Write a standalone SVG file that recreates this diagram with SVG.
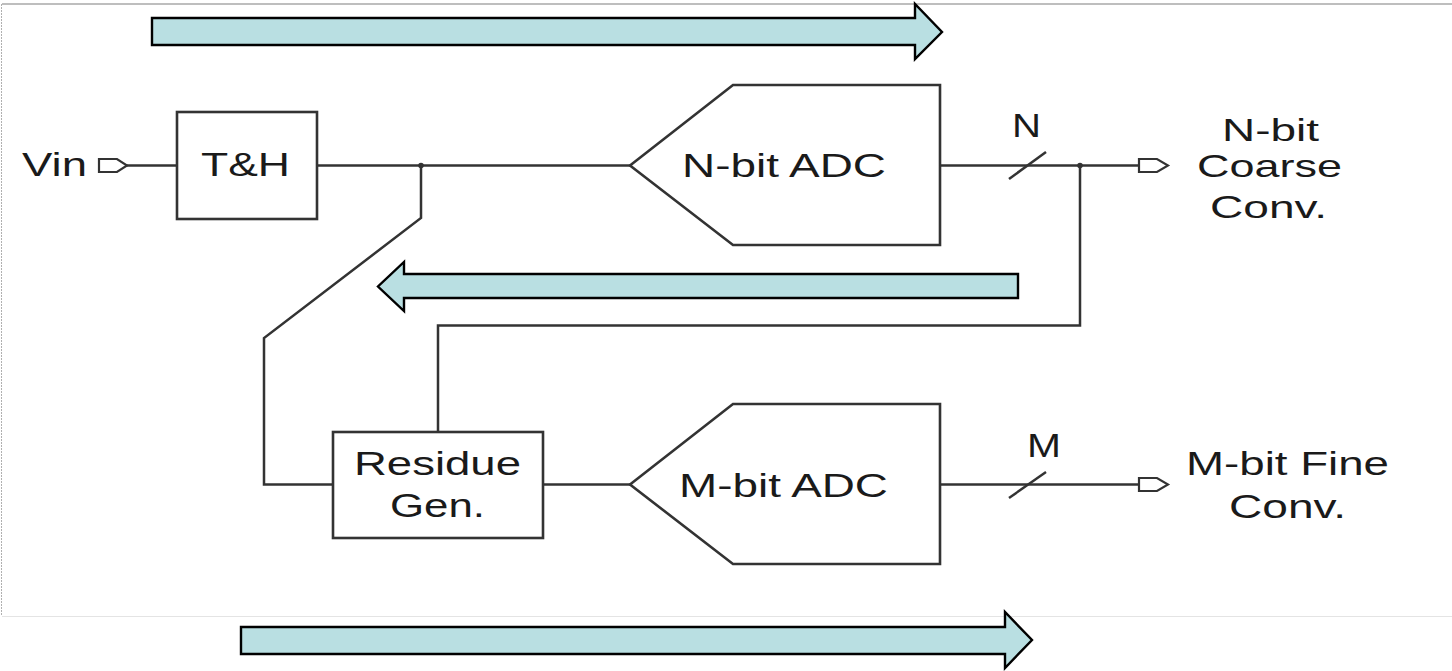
<svg xmlns="http://www.w3.org/2000/svg" width="1452" height="671" viewBox="0 0 1452 671">
<style>
.w{fill:none;stroke:#333;stroke-width:2.5;stroke-linejoin:miter}
.blk{fill:#fff;stroke:#333;stroke-width:2.6}
.ba{fill:#b9dfe2;stroke:#000;stroke-width:2.4;stroke-linejoin:miter}
.port{fill:#fff;stroke:#333;stroke-width:2.2}
.t{font-family:"Liberation Sans",Arial,sans-serif;font-size:34px;fill:#1a1a1a}
.s{font-size:32px}
.c{text-anchor:middle}
</style>
<rect width="1452" height="671" fill="#fff"/>
<g id="frame">
<line x1="2" y1="4" x2="1452" y2="4" stroke="#a8a8a8" stroke-width="1.5"/>
<line x1="1.5" y1="4" x2="1.5" y2="616" stroke="#b0b0b0" stroke-width="1" stroke-dasharray="2,1"/>
<line x1="2" y1="616.5" x2="1452" y2="616.5" stroke="#e4e4e4" stroke-width="1.2"/>
</g>
<g id="flow-arrows">
<polygon id="arrow-top" class="ba" points="152,18 915,18 915,4 942,32 915,59 915,45 152,45"/>
<polygon id="arrow-mid" class="ba" points="1018,274 404,274 404,262 378,286.5 404,311 404,298 1018,298"/>
<polygon id="arrow-bot" class="ba" points="241,627 1005,627 1005,612 1032,640 1005,668 1005,654 241,654"/>
</g>
<g id="connectors">
<line class="w" x1="127" y1="165.5" x2="177" y2="165.5"/>
<line class="w" x1="317" y1="165.5" x2="630" y2="165.5"/>
<polyline class="w" points="421,165.5 421,218 264,338 264,484.5 333,484.5"/>
<line class="w" x1="543" y1="484.5" x2="630" y2="484.5"/>
<line class="w" x1="940" y1="165.5" x2="1139" y2="165.5"/>
<polyline class="w" points="1080,165.5 1080,325.5 438,325.5 438,432"/>
<line class="w" x1="940" y1="484.5" x2="1139" y2="484.5"/>
<line class="w" x1="1009" y1="179" x2="1046" y2="152" stroke-width="2"/>
<line class="w" x1="1009" y1="498" x2="1046" y2="472" stroke-width="2"/>
<circle cx="421" cy="165.5" r="2.8" fill="#333"/>
<circle cx="1080" cy="165.5" r="2.8" fill="#333"/>
<text class="t c" x="1026.5" y="137" textLength="29" lengthAdjust="spacingAndGlyphs">N</text>
<text class="t c" x="1044" y="457" textLength="34" lengthAdjust="spacingAndGlyphs">M</text>
</g>
<g id="vin">
<text class="t" x="22" y="176" textLength="65" lengthAdjust="spacingAndGlyphs">Vin</text>
<polygon class="port" points="99,159 117,159 127,165.5 117,172 99,172"/>
</g>
<g id="th">
<rect class="blk" x="177" y="112" width="140" height="107"/>
<text class="t" x="201" y="176" textLength="89" lengthAdjust="spacingAndGlyphs">T&amp;H</text>
</g>
<g id="nadc">
<polygon class="blk" points="630,165.5 733,85 940,85 940,245 733,245"/>
<text class="t" x="682" y="177" textLength="204" lengthAdjust="spacingAndGlyphs">N-bit ADC</text>
</g>
<g id="madc">
<polygon class="blk" points="630,484.5 733,404 940,404 940,564 733,564"/>
<text class="t" x="679" y="497" textLength="209" lengthAdjust="spacingAndGlyphs">M-bit ADC</text>
</g>
<g id="residue">
<rect class="blk" x="333" y="432" width="210" height="106"/>
<text class="t" x="354" y="475" textLength="167" lengthAdjust="spacingAndGlyphs">Residue</text>
<text class="t" x="390" y="517" textLength="95" lengthAdjust="spacingAndGlyphs">Gen.</text>
</g>
<g id="out-coarse">
<polygon class="port" points="1139,159 1157,159 1168,165.5 1157,172 1139,172"/>
<text class="t s" x="1222" y="141" textLength="97" lengthAdjust="spacingAndGlyphs">N-bit</text>
<text class="t s" x="1197" y="177" textLength="145" lengthAdjust="spacingAndGlyphs">Coarse</text>
<text class="t s" x="1210" y="218" textLength="117" lengthAdjust="spacingAndGlyphs">Conv.</text>
</g>
<g id="out-fine">
<polygon class="port" points="1139,478 1157,478 1168,484.5 1157,491 1139,491"/>
<text class="t" x="1186" y="475" textLength="203" lengthAdjust="spacingAndGlyphs">M-bit Fine</text>
<text class="t" x="1229" y="518" textLength="117" lengthAdjust="spacingAndGlyphs">Conv.</text>
</g>
</svg>
